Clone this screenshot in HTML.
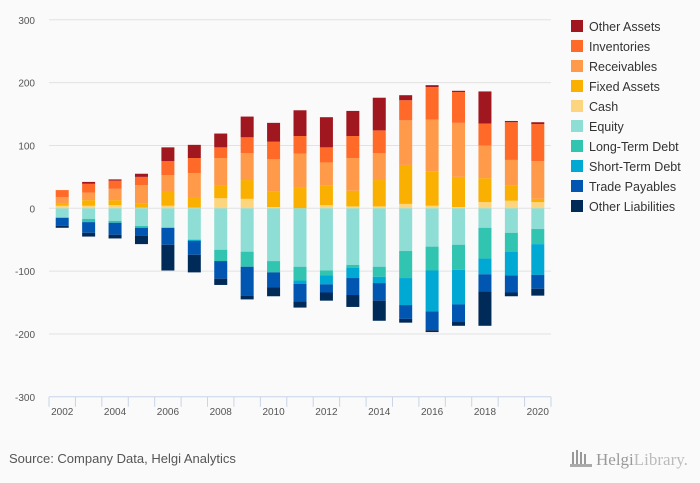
<!DOCTYPE html>
<html><head><meta charset="utf-8"><style>
body{margin:0;background:#fafafa;}
svg{display:block;font-family:"Liberation Sans",sans-serif;}
</style></head><body>
<svg id="chart" width="700" height="483">
<rect width="700" height="483" fill="#fafafa"/>
<g id="grid"></g><g id="bars"></g><g id="axes"></g><g id="legend"></g>
<text x="9" y="463" font-size="13" fill="#555">Source: Company Data, Helgi Analytics</text>
<g>
<rect x="572" y="452" width="2" height="12" fill="#999"/><rect x="576" y="450" width="2" height="14" fill="#999"/><rect x="580" y="452" width="2" height="12" fill="#999"/><rect x="584" y="454" width="2" height="10" fill="#999"/><rect x="570" y="464" width="22" height="3" fill="#aaa"/>
<text x="596" y="465" font-size="17" fill="#999" font-family="Liberation Serif, serif">Helgi<tspan fill="#bbb">Library.</tspan></text>
</g>
</svg>
<script>
const years=[2002,2003,2004,2005,2006,2007,2008,2009,2010,2011,2012,2013,2014,2015,2016,2017,2018,2019,2020];
const cash=[4,4,5,1,4,1,16,15,2,0,5,3,3,7,4,2,10,12,10];
const fixedAssets=[3,9,8,7,22,17,21,30,25,33,31,25,42,62,55,48,38,24,5];
const receivables=[11,12,18,29,27,38,43,43,51,54,37,52,43,71,82,86,52,41,60];
const inventories=[11,14,13,13,22,24,17,25,28,28,24,35,36,32,52,49,35,60,59];
const otherAssets=[0,3,2,5,22,21,22,33,30,41,48,40,52,8,3,2,51,2,3];
const equity=[15,17,20,28,31,50,66,69,84,93,99,90,93,68,61,58,31,39,33];
const longTermDebt=[0,5,3,3,0,0,18,24,18,22,8,5,16,43,38,40,49,30,24];
const shortTermDebt=[0,0,0,0,0,2,0,0,0,5,14,16,10,43,65,55,25,38,49];
const tradePayables=[13,17,19,13,27,22,28,46,24,28,13,27,28,22,30,28,27,27,22];
const otherLiabilities=[3,6,6,13,41,28,10,6,14,10,13,19,32,6,3,6,55,6,11];
const yTicks=[300,200,100,0,-100,-200,-300];
const NS='http://www.w3.org/2000/svg';
const x0=49,x1=551,step=(x1-x0)/years.length,bw=13;
const y=v=>208.3-v*0.6283;
const xc=i=>x0+step*(i+0.5);
function mk(t,a,p){const e=document.createElementNS(NS,t);for(const k in a)e.setAttribute(k,a[k]);p.appendChild(e);return e;}
const grid=document.getElementById('grid'),axes=document.getElementById('axes'),bars=document.getElementById('bars'),leg=document.getElementById('legend');
yTicks.forEach(v=>{
 if(v!==-300){const l=mk('line',{x1:x0,x2:x1,y1:y(v),y2:y(v),stroke:'#e2e2e2','stroke-width':1},grid);
 
 }
 const t=mk('text',{x:35,y:y(v)+4,'text-anchor':'end','font-size':10,fill:'#555'},axes);t.textContent=v;
 
 
});
const ax=mk('line',{x1:x0,x2:x1,y1:y(-300),y2:y(-300),stroke:'#c8d4e8','stroke-width':1},axes);


for(let i=0;i<=years.length;i++){const tk=mk('line',{x1:x0+step*i,x2:x0+step*i,y1:y(-300),y2:y(-300)+10,stroke:'#c8d4e8'},axes);
 
 }
years.forEach((yr,i)=>{if(i%2)return;const t=mk('text',{x:xc(i),y:y(-300)+18,'text-anchor':'middle','font-size':10,fill:'#555'},axes);t.textContent=yr;
 
 });
const pos=[['Cash',cash,'#fcd57e'],['Fixed Assets',fixedAssets,'#f9b000'],['Receivables',receivables,'#ff9a4a'],['Inventories',inventories,'#ff6a28'],['Other Assets',otherAssets,'#a0171f']];
const neg=[['Equity',equity,'#8fded5'],['Long-Term Debt',longTermDebt,'#31c4b1'],['Short-Term Debt',shortTermDebt,'#00a9d4'],['Trade Payables',tradePayables,'#0056b0'],['Other Liabilities',otherLiabilities,'#002a57']];
years.forEach((yr,i)=>{
 let acc=0;pos.forEach(([n,d,c])=>{const v=d[i];if(!v){return;}const r=mk('rect',{x:xc(i)-bw/2,y:y(acc+v),width:bw,height:y(acc)-y(acc+v),fill:c},bars);
 
 acc+=v;});
 acc=0;neg.forEach(([n,d,c])=>{const v=d[i];if(!v){return;}const r=mk('rect',{x:xc(i)-bw/2,y:y(acc),width:bw,height:y(acc-v)-y(acc),fill:c},bars);
 
 acc-=v;});
});
const legItems=[...pos].reverse().concat(neg);
legItems.forEach(([n,d,c],k)=>{const g=mk('g',{},leg);
 
 
 mk('rect',{x:571,y:20+k*20,width:12,height:12,fill:c},g);
 const t=mk('text',{x:589,y:31+k*20,'font-size':12.5,fill:'#333'},g);t.textContent=n;});
</script>
</body></html>
